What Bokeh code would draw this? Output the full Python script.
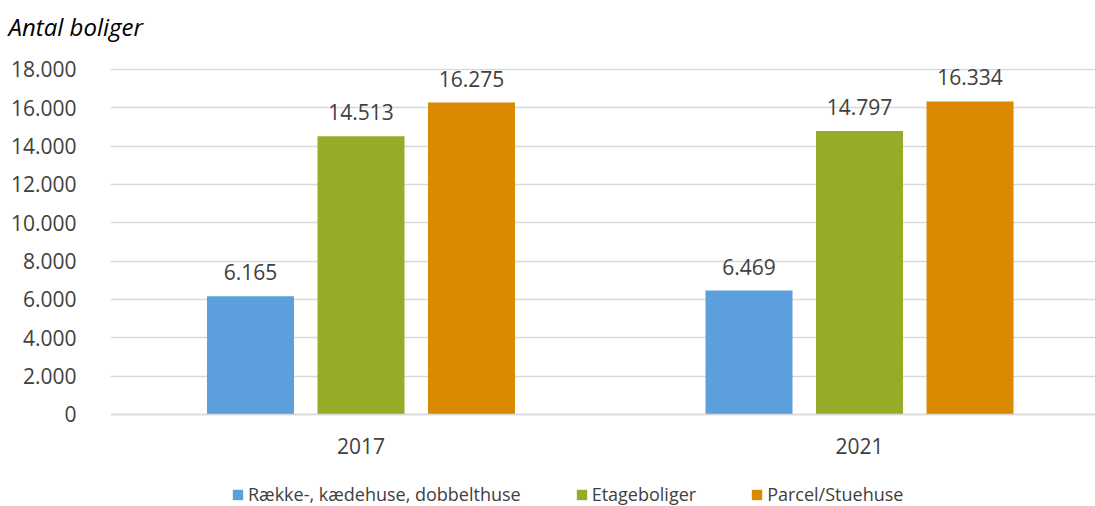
from bokeh.plotting import figure
from bokeh.models import (ColumnDataSource, FixedTicker, Legend, LegendItem, Range1d, Title)
from bokeh.core.properties import value
from bokeh.embed import file_html
from bokeh.resources import INLINE

years = ["2017", "2021"]
categories = ["Række-, kædehuse, dobbelthuse", "Etageboliger", "Parcel/Stuehuse"]
raekke = [6165, 6469]
etage = [14513, 14797]
parcel = [16275, 16334]
y_ticks = [0, 2000, 4000, 6000, 8000, 10000, 12000, 14000, 16000, 18000]

series = [raekke, etage, parcel]
colors = ["#5BA0DC", "#96AC28", "#DA8A00"]
offsets = [-0.2217, 0.0, 0.2217]
bar_w = 0.1745
FONT = "Open Sans"
TXT = "#404040"

p = figure(width=1095, height=506, output_backend="svg", toolbar_location=None,
           x_range=Range1d(-0.5025, 1.4734), y_range=Range1d(-4800, 18052),
           min_border_left=110, min_border_right=0, min_border_top=68,
           min_border_bottom=0)
p.outline_line_color = None
p.background_fill_color = "white"
p.border_fill_color = "white"

# title (outermost) with a thin spacer panel between it and the plot frame
p.title.text = "Antal boliger"
p.title.align = "left"
p.title.offset = -102
p.title.standoff = 0
p.title.text_font = FONT
p.title.text_font_style = "italic"
p.title.text_font_size = "24px"
p.title.text_color = "#000000"
spacer = Title(text=" ", text_font_size="1px", standoff=23)
p.add_layout(spacer, "above")

# grid
p.xgrid.grid_line_color = None
p.ygrid.grid_line_color = "#D9D9D9"
p.ygrid.grid_line_width = 1.5
p.ygrid.ticker = FixedTicker(ticks=y_ticks)

# y axis
p.yaxis.ticker = FixedTicker(ticks=y_ticks)
p.yaxis.major_label_overrides = {t: f"{t:,}".replace(",", ".") for t in y_ticks}
p.yaxis.axis_line_color = None
p.yaxis.major_tick_line_color = None
p.yaxis.minor_tick_line_color = None
p.yaxis.major_label_standoff = 28
p.yaxis.major_label_text_font = FONT
p.yaxis.major_label_text_font_size = "21px"
p.yaxis.major_label_text_color = TXT

# x axis, fixed at zero
p.xaxis.fixed_location = 0
p.xaxis.ticker = FixedTicker(ticks=[0, 1])
p.xaxis.major_label_overrides = {i: y for i, y in enumerate(years)}
p.xaxis.axis_line_color = "#D9D9D9"
p.xaxis.axis_line_width = 1.5
p.xaxis.major_tick_line_color = None
p.xaxis.minor_tick_line_color = None
p.xaxis.major_label_standoff = 18
p.xaxis.major_label_text_font = FONT
p.xaxis.major_label_text_font_size = "21px"
p.xaxis.major_label_text_color = TXT

items = []
for s, col, off, name in zip(series, colors, offsets, categories):
    xs = [i + off for i in range(len(years))]
    src = ColumnDataSource(dict(x=xs, top=s,
                                lab=[f"{v:,}".replace(",", ".") for v in s]))
    r = p.vbar(x="x", top="top", width=bar_w, bottom=0, source=src,
               fill_color=col, line_color=None)
    p.text(x="x", y="top", text="lab", source=src, text_align="center",
           text_baseline="alphabetic", y_offset=-24, text_font=value(FONT),
           text_font_size="21px", text_color=TXT)
    items.append(LegendItem(label=name, renderers=[r]))

legend = Legend(items=items, orientation="horizontal", location=(121, 0),
                label_text_font=FONT, label_text_font_size="18px",
                label_text_color=TXT, glyph_width=13, glyph_height=13,
                label_standoff=4, spacing=54, border_line_color=None,
                background_fill_alpha=0, margin=0, padding=0)
p.add_layout(legend, "center")

open("out.html", "w").write(file_html(p, INLINE))
